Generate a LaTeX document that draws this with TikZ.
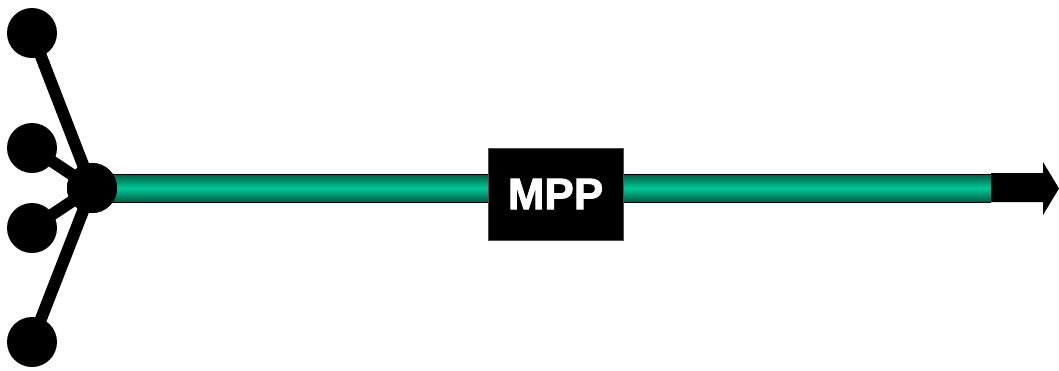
\documentclass[tikz,border=0pt]{standalone}
\usepackage{fontspec}
\setmainfont{Liberation Sans}[BoldFeatures={FakeBold=2}]
\begin{document}
\begin{tikzpicture}[x=1pt,y=-1pt,
  dot/.style={circle,fill=black,inner sep=0pt,minimum size=50pt},
  spoke/.style={line width=12pt,black},
  mppbox/.style={fill=black,draw=black!70,line width=0.6pt,minimum width=135pt,minimum height=92pt,inner sep=0pt,text=white,font=\bfseries\fontsize{44}{44}\selectfont}]
\definecolor{bargreen}{RGB}{0,200,150}
\definecolor{bardark}{RGB}{0,90,65}
\useasboundingbox (0,0) rectangle (1059,370);
\coordinate (barend) at (991,188);
% bar
\shade[top color=bardark,bottom color=bardark,middle color=bargreen] (92,174) rectangle (barend|-0,202);
\draw[black,line width=0.8pt] (92,174) -- (barend|-0,174) (92,202) -- (barend|-0,202);
% arrow head
\fill[black] (barend|-0,173) -- (1043,173) -- (1043,162) -- (1059,188.5) -- (1043,215) -- (1043,202) -- (barend|-0,202) -- cycle;
% nodes
\node[dot] (hub) at (92,188) {};
\node[dot] (a) at (32,33) {};
\node[dot] (b) at (32,148) {};
\node[dot] (c) at (32,228) {};
\node[dot] (d) at (32,342) {};
\draw[spoke] (a.center) -- (hub.center);
\draw[spoke] (b.center) -- (hub.center);
\draw[spoke] (c.center) -- (hub.center);
\draw[spoke] (d.center) -- (hub.center);
\node[dot] at (hub.center) {};
\node[mppbox] (mpp) at (555.5,194) {MPP};
\end{tikzpicture}
\end{document}
